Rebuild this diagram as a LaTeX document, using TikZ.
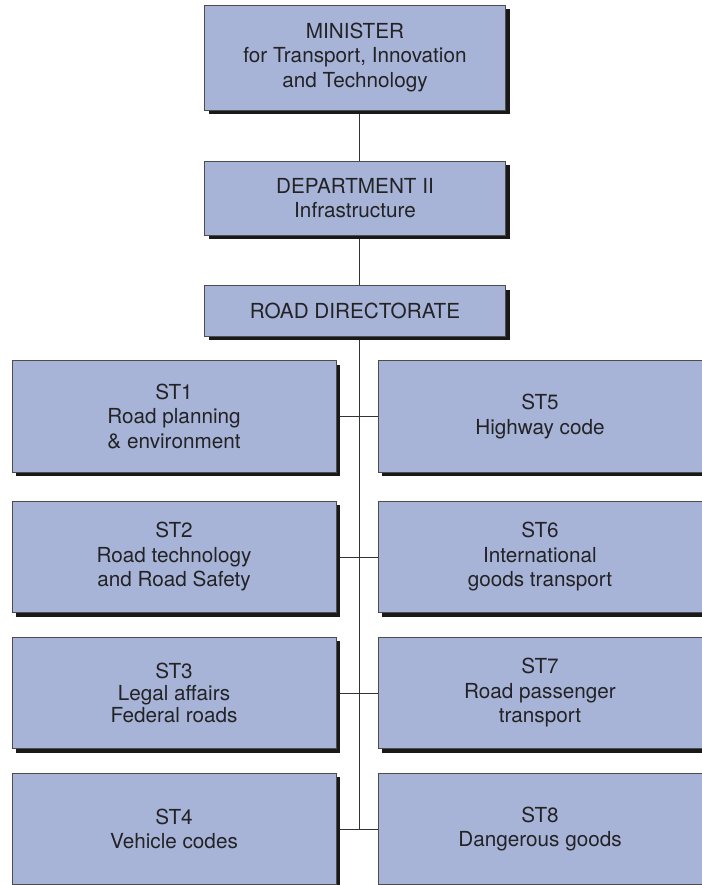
\documentclass[tikz,border=0pt]{standalone}
\usepackage{fontspec}
\setmainfont{TeX Gyre Heros}
\usetikzlibrary{shadows,backgrounds}
\definecolor{boxblue}{RGB}{167,180,215}
\definecolor{inkgray}{RGB}{35,35,38}
\begin{document}
\begin{tikzpicture}[x=1pt, y=-1pt,
		unit/.style={draw=black!70, line width=0.7pt, fill=boxblue, text=inkgray, align=center, inner sep=0pt,
			font=\fontsize{20.7}{24.5}\selectfont,
			drop shadow={shadow xshift=4pt, shadow yshift=-4pt, fill=black!90, opacity=1}},
		office/.style={unit, minimum width=324pt, minimum height=111.5pt},
		link/.style={draw=black!80, line width=0.8pt}]
			\useasboundingbox (0,0) rectangle (701,885);
			\node[unit, minimum width=301pt, minimum height=105pt] (minister) at (355,57.5) {MINISTER\\for Transport, Innovation\\and Technology};
			\node[unit, minimum width=301pt, minimum height=74pt] (dept) at (355,198) {DEPARTMENT II\\Infrastructure};
			\node[unit, minimum width=301pt, minimum height=50.5pt] (road) at (355,311) {ROAD DIRECTORATE};
			\node[office] (st1) at (174,416.5) {ST1\\Road planning\\\& environment};
			\node[office] (st2) at (174,557) {ST2\\Road technology\\and Road Safety};
			\node[office] (st3) at (174,693) {ST3\\[-2.5pt]Legal affairs\\[-2.5pt]Federal roads};
			\node[office] (st4) at (174,829) {ST4\\Vehicle codes};
			\node[office] (st5) at (540,416.5) {ST5\\Highway code};
			\node[office] (st6) at (540,557) {ST6\\International\\goods transport};
			\node[office] (st7) at (540,693) {ST7\\Road passenger\\transport};
			\node[office] (st8) at (540,829) {ST8\\Dangerous goods};
			\coordinate (trunk) at (359,0);
			\begin{scope}[on background layer]
				\draw[link] (trunk |- minister.south) -- (trunk |- st4.east);
				\foreach \l/\r in {st1/st5, st2/st6, st3/st7, st4/st8}
					\draw[link] (\l.east) -- (\r.west);
			\end{scope}
		\end{tikzpicture}
\end{document}
